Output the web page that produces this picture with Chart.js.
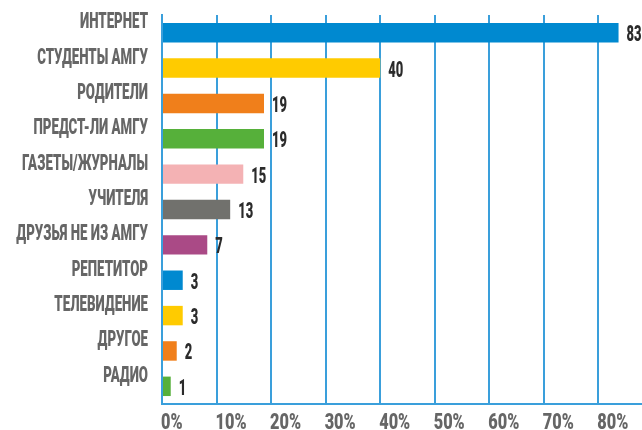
<!DOCTYPE html>
<html>
<head>
<meta charset="utf-8">
<script src="https://cdn.jsdelivr.net/npm/chart.js@4/dist/chart.umd.min.js"></script>
<style>
  html, body { margin: 0; padding: 0; background: #fff; overflow: hidden; width: 642px; height: 430px; }
  canvas { display: block; }
</style>
</head>
<body>
<canvas id="chart" width="642" height="430"></canvas>
<script>
// categories, top to bottom
const categories = [
  "ИНТЕРНЕТ", "СТУДЕНТЫ АМГУ", "РОДИТЕЛИ", "ПРЕДСТ-ЛИ АМГУ", "ГАЗЕТЫ/ЖУРНАЛЫ",
  "УЧИТЕЛЯ", "ДРУЗЬЯ НЕ ИЗ АМГУ", "РЕПЕТИТОР", "ТЕЛЕВИДЕНИЕ", "ДРУГОЕ", "РАДИО"
];
// bar lengths in %
const shares = [83.7, 40, 18.7, 18.7, 14.9, 12.5, 8.3, 3.8, 3.8, 2.7, 1.6];
// numbers printed at the bar ends
const counts = [83, 40, 19, 19, 15, 13, 7, 3, 3, 2, 1];
const barColors = [
  "#0089d0", "#ffcb00", "#f07f1b", "#56b03a", "#f4b2b4", "#71716d",
  "#aa4a86", "#0089d0", "#ffcb00", "#f07f1b", "#56b03a"
];
const xTicks = [0, 10, 20, 30, 40, 50, 60, 70, 80];

const FONT = "900 22px Roboto, 'DejaVu Sans', sans-serif";

// draw condensed text: squeeze horizontally by sx
function squeezed(ctx, text, x, y, sx, align) {
  ctx.save();
  ctx.translate(x, y);
  ctx.scale(sx, 1);
  ctx.textAlign = align;
  ctx.fillText(text, 0, 0);
  ctx.restore();
}

// axis labels and value labels in a narrow face
const labelsPlugin = {
  id: "labelsPlugin",
  afterDraw(chart) {
    const ctx = chart.ctx;
    const xs = chart.scales.x, ys = chart.scales.y;
    const meta = chart.getDatasetMeta(0);
    ctx.save();
    ctx.font = FONT;
    ctx.textBaseline = "middle";

    // category names
    const sCat = 68 / ctx.measureText("ИНТЕРНЕТ").width;
    ctx.fillStyle = "#666666";
    categories.forEach((c, i) => {
      squeezed(ctx, c, 148, ys.getPixelForTick(i) - 10, sCat, "right");
    });

    // numbers at bar ends
    const sNum = 15 / ctx.measureText("40").width;
    ctx.fillStyle = "#2b2b2b";
    meta.data.forEach((bar, i) => {
      squeezed(ctx, String(counts[i]), bar.x + 8, bar.y + 3, sNum, "left");
    });

    // x tick labels, left-aligned on the gridlines
    const sTick = 31 / ctx.measureText("10%").width;
    ctx.fillStyle = "#666666";
    ctx.textBaseline = "alphabetic";
    xTicks.forEach(v => {
      squeezed(ctx, v + "%", xs.getPixelForValue(v) - 1, 429, sTick, "left");
    });
    ctx.restore();
  }
};

new Chart(document.getElementById("chart"), {
  type: "bar",
  data: {
    labels: categories,
    datasets: [{
      data: shares,
      backgroundColor: barColors,
      borderWidth: 0,
      barPercentage: 0.55,
      categoryPercentage: 1
    }]
  },
  plugins: [labelsPlugin],
  options: {
    indexAxis: "y",
    responsive: false,
    animation: false,
    layout: { padding: { top: 15, right: 0, left: 0, bottom: 0 } },
    plugins: {
      legend: { display: false },
      tooltip: { enabled: false }
    },
    scales: {
      x: {
        min: 0,
        max: 88,
        afterBuildTicks: s => { s.ticks = xTicks.map(v => ({ value: v })); },
        afterFit: s => { s.height = 26; },
        grid: { color: "#3a9fdb", lineWidth: 2, drawTicks: false },
        border: { color: "#3a9fdb", width: 2 },
        ticks: { display: false }
      },
      y: {
        afterFit: s => { s.width = 162; },
        grid: { display: false, drawTicks: false },
        border: { color: "#3a9fdb", width: 2 },
        ticks: { display: false }
      }
    }
  }
});
</script>
</body>
</html>
